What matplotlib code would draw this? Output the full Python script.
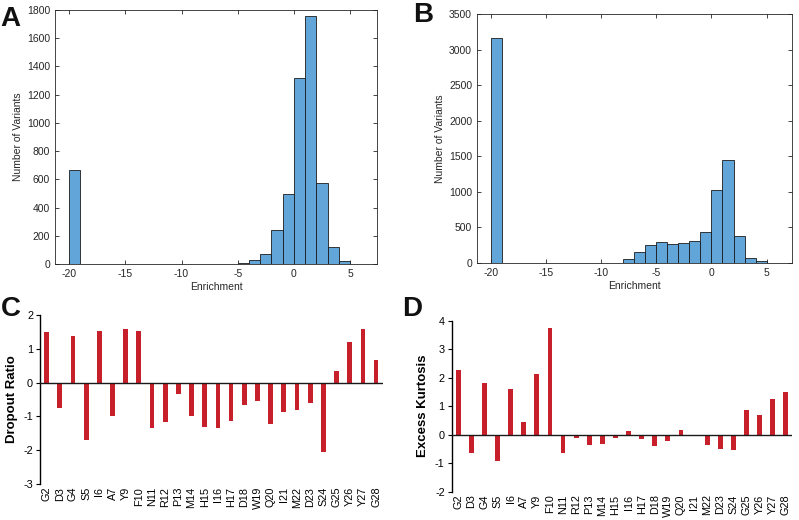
import numpy as np
import matplotlib
matplotlib.use('Agg')
import matplotlib.pyplot as plt

plt.rcParams['font.family'] = ['Liberation Sans', 'DejaVu Sans']
plt.rcParams['axes.unicode_minus'] = False

# histogram A: bin left edges (width 1) and counts
a_edges = [-20, -5, -4, -3, -2, -1, 0, 1, 2, 3, 4]
a_counts = [664, 10, 26, 69, 239, 498, 1316, 1758, 574, 118, 21]

# histogram B
b_edges = [-20, -8, -7, -6, -5, -4, -3, -2, -1, 0, 1, 2, 3, 4]
b_counts = [3163, 61, 155, 248, 295, 267, 281, 314, 436, 1026, 1448, 380, 75, 23]

residues = ['G2', 'D3', 'G4', 'S5', 'I6', 'A7', 'Y9', 'F10', 'N11', 'R12', 'P13',
            'M14', 'H15', 'I16', 'H17', 'D18', 'W19', 'Q20', 'I21', 'M22', 'D23',
            'S24', 'G25', 'Y26', 'Y27', 'G28']
dropout = [1.50, -0.76, 1.38, -1.70, 1.53, -0.98, 1.58, 1.53, -1.35, -1.16, -0.35,
           -0.98, -1.32, -1.34, -1.15, -0.67, -0.54, -1.23, -0.88, -0.82, -0.61,
           -2.06, 0.33, 1.21, 1.58, 0.66]
kurtosis = [2.27, -0.63, 1.80, -0.91, 1.59, 0.44, 2.14, 3.73, -0.63, -0.13, -0.36,
            -0.34, -0.11, 0.12, -0.16, -0.40, -0.23, 0.16, 0.0, -0.35, -0.50,
            -0.53, 0.87, 0.69, 1.24, 1.50]

W, H = 799, 520
fig = plt.figure(figsize=(W / 100, H / 100), dpi=100)


def px_axes(l, t, r, b):
    return fig.add_axes([l / W, 1 - b / H, (r - l) / W, (b - t) / H])


grey = '#262626'
blue = '#62a6d9'
red = '#c8202a'


def hist_panel(ax, edges, counts, xlim, ylim, yticks):
    ax.bar(edges, counts, width=1, align='edge', color=blue,
           edgecolor='#1a1a1a', linewidth=0.6)
    ax.set_xlim(xlim)
    ax.set_ylim(ylim)
    ax.set_xticks([-20, -15, -10, -5, 0, 5])
    ax.set_yticks(yticks)
    ax.tick_params(direction='in', top=True, right=True, length=3,
                   labelsize=7.5, colors=grey, width=0.6)
    for s in ax.spines.values():
        s.set_color(grey)
        s.set_linewidth(0.6)
    ax.set_xlabel('Enrichment', fontsize=7.5, color=grey, labelpad=2)
    ax.set_ylabel('Number of Variants', fontsize=7.5, color=grey, labelpad=3)


axA = px_axes(55, 10, 377, 264)
hist_panel(axA, a_edges, a_counts, (-21.27, 7.4), (0, 1800), range(0, 1801, 200))

axB = px_axes(477, 14, 792, 263)
hist_panel(axB, b_edges, b_counts, (-21.24, 7.3), (0, 3500), range(0, 3501, 500))


def bar_panel(ax, vals, ylim, label):
    x = np.arange(1, len(vals) + 1)
    ax.bar(x, vals, width=0.36, color=red)
    ax.axhline(0, color='#1a1a1a', linewidth=1.0, zorder=3)
    ax.set_xlim(0.5, len(vals) + 0.5)
    ax.set_ylim(ylim)
    ax.set_yticks(range(ylim[0], ylim[1] + 1))
    ax.set_xticks(x)
    ax.set_xticklabels(residues, rotation=90, fontsize=7.8)
    ax.tick_params(axis='x', length=0, pad=2)
    ax.tick_params(axis='y', length=3, labelsize=7.8, pad=2)
    for s in ['top', 'right', 'bottom']:
        ax.spines[s].set_visible(False)
    ax.spines['left'].set_linewidth(1.0)
    ax.set_ylabel(label, fontsize=9.5, fontweight='bold', labelpad=4)


axC = px_axes(40, 315, 382.7, 484)
bar_panel(axC, dropout, (-3, 2), 'Dropout Ratio')

axD = px_axes(451.7, 320.7, 792.3, 491.7)
bar_panel(axD, kurtosis, (-2, 4), 'Excess Kurtosis')

letters = [('A', 0, 6), ('B', 413, 2), ('C', 1, 296), ('D', 402, 296)]
for t, lx, ty in letters:
    fig.text(lx / W, 1 - ty / H, t, fontsize=20, fontweight='bold',
             ha='left', va='top', color='#111111')

fig.savefig('out.png', dpi=100)
